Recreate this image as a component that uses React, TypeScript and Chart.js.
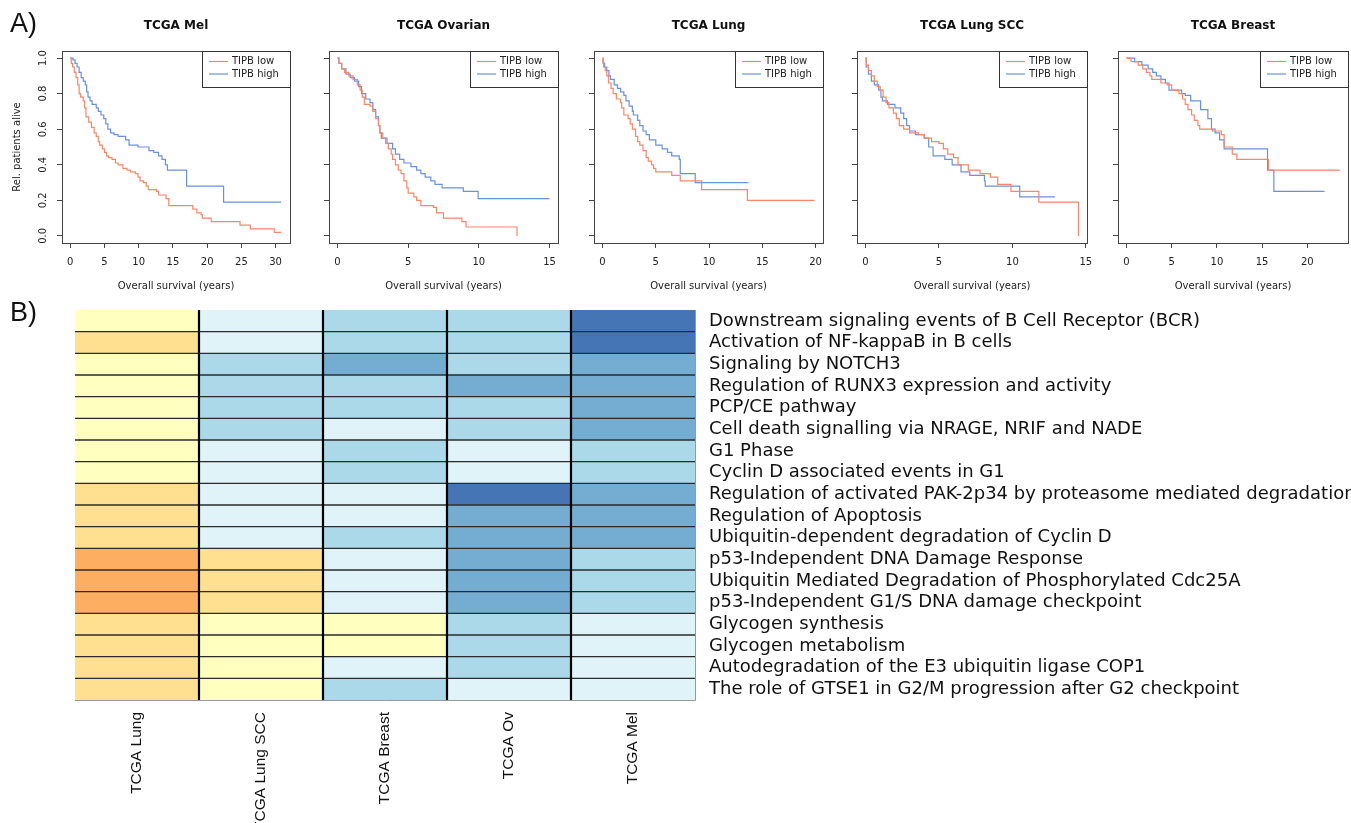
import React, { useEffect, useRef } from "react";
import { Chart, registerables } from "chart.js";
Chart.register(...registerables);

// ---------------- Kaplan-Meier data (time in years, survival fraction) ----------------
const melLowT = [0, 0.15, 0.35, 0.6, 0.85, 1.1, 1.3, 1.5, 1.9, 2.1, 2.3, 2.7, 3.1, 3.5, 3.8, 4.1, 4.3, 4.7, 5.0, 5.3, 5.6, 6.1, 6.6, 7.0, 7.7, 8.3, 8.8, 9.5, 9.9, 10.2, 10.7, 11.1, 11.4, 12.6, 12.9, 14.0, 14.4, 17.9, 18.5, 19.1, 19.3, 20.6, 24.8, 26.3, 29.8, 30.8];
const melLowS = [1.0, 0.97, 0.95, 0.92, 0.89, 0.85, 0.8, 0.78, 0.76, 0.72, 0.67, 0.64, 0.61, 0.58, 0.56, 0.53, 0.51, 0.49, 0.47, 0.45, 0.44, 0.43, 0.41, 0.4, 0.38, 0.37, 0.36, 0.35, 0.33, 0.31, 0.3, 0.28, 0.26, 0.25, 0.23, 0.21, 0.17, 0.15, 0.13, 0.12, 0.1, 0.08, 0.06, 0.04, 0.02, 0.02];
const melHighT = [0, 0.4, 0.7, 1.0, 1.3, 1.6, 1.9, 2.2, 2.4, 2.6, 2.9, 3.2, 3.8, 4.1, 4.5, 4.9, 5.2, 5.5, 5.9, 6.4, 7.0, 8.1, 8.6, 9.9, 11.5, 12.2, 12.9, 13.4, 13.9, 14.2, 17.0, 22.4, 30.8];
const melHighS = [1.0, 0.99, 0.97, 0.95, 0.92, 0.89, 0.87, 0.85, 0.81, 0.78, 0.76, 0.74, 0.72, 0.7, 0.68, 0.66, 0.63, 0.6, 0.58, 0.57, 0.56, 0.54, 0.51, 0.5, 0.48, 0.47, 0.45, 0.43, 0.4, 0.37, 0.28, 0.19, 0.19];

const ovLowT = [0, 0.1, 0.3, 0.5, 0.8, 1.1, 1.4, 1.6, 1.75, 1.9, 2.3, 2.5, 2.7, 2.9, 3.0, 3.2, 3.4, 3.6, 3.8, 3.9, 4.1, 4.3, 4.5, 4.7, 4.9, 5.0, 5.4, 5.6, 5.9, 6.8, 7.0, 7.5, 8.8, 9.1, 12.7, 12.7];
const ovLowS = [1.0, 0.97, 0.94, 0.92, 0.9, 0.88, 0.85, 0.82, 0.78, 0.74, 0.73, 0.7, 0.66, 0.62, 0.58, 0.55, 0.52, 0.49, 0.46, 0.43, 0.4, 0.37, 0.35, 0.31, 0.27, 0.24, 0.22, 0.2, 0.17, 0.16, 0.13, 0.1, 0.08, 0.05, 0.05, 0.0];
const ovHighT = [0, 0.1, 0.3, 0.6, 0.9, 1.2, 1.5, 1.7, 2.0, 2.3, 2.5, 2.7, 2.9, 3.0, 3.1, 3.5, 3.9, 4.1, 4.4, 4.7, 5.2, 5.6, 5.9, 6.2, 6.6, 6.9, 7.4, 8.9, 9.95, 15.0];
const ovHighS = [1.0, 0.97, 0.94, 0.91, 0.89, 0.87, 0.84, 0.8, 0.77, 0.75, 0.71, 0.67, 0.62, 0.58, 0.55, 0.52, 0.49, 0.46, 0.43, 0.41, 0.39, 0.37, 0.35, 0.33, 0.31, 0.29, 0.27, 0.25, 0.21, 0.21];

const lungLowT = [0, 0.02, 0.1, 0.25, 0.4, 0.56, 0.8, 1.0, 1.3, 1.7, 1.8, 2.0, 2.4, 2.6, 2.8, 3.1, 3.3, 3.5, 3.8, 4.1, 4.3, 4.6, 4.8, 5.0, 6.5, 7.3, 9.3, 13.6, 19.9];
const lungLowS = [1.0, 0.98, 0.95, 0.93, 0.9, 0.86, 0.83, 0.8, 0.77, 0.75, 0.72, 0.68, 0.66, 0.63, 0.6, 0.56, 0.53, 0.51, 0.48, 0.44, 0.42, 0.4, 0.38, 0.36, 0.34, 0.31, 0.26, 0.2, 0.2];
const lungHighT = [0, 0.05, 0.2, 0.4, 0.6, 0.75, 1.1, 1.4, 1.7, 2.0, 2.2, 2.5, 2.8, 2.9, 3.3, 3.5, 3.8, 4.1, 4.4, 5.0, 5.6, 6.1, 6.5, 7.2, 7.3, 8.7, 13.7];
const lungHighS = [1.0, 0.97, 0.95, 0.93, 0.9, 0.88, 0.85, 0.83, 0.81, 0.79, 0.76, 0.73, 0.7, 0.68, 0.65, 0.62, 0.59, 0.57, 0.54, 0.51, 0.49, 0.47, 0.45, 0.43, 0.35, 0.3, 0.3];

const sccLowT = [0, 0.05, 0.2, 0.4, 0.6, 0.8, 1.0, 1.2, 1.4, 1.6, 1.9, 2.1, 2.3, 2.6, 3.0, 3.6, 4.0, 4.5, 5.0, 5.3, 5.6, 6.0, 6.3, 7.0, 7.8, 8.5, 9.0, 9.9, 11.8, 14.5, 14.5];
const sccLowS = [1.0, 0.96, 0.93, 0.9, 0.87, 0.84, 0.82, 0.78, 0.75, 0.72, 0.69, 0.66, 0.62, 0.6, 0.58, 0.57, 0.55, 0.53, 0.52, 0.49, 0.46, 0.44, 0.4, 0.37, 0.35, 0.33, 0.29, 0.25, 0.19, 0.19, 0.0];
const sccHighT = [0, 0.05, 0.2, 0.4, 0.6, 0.9, 1.05, 1.15, 1.5, 2.0, 2.4, 2.6, 2.8, 3.0, 3.4, 4.0, 4.3, 4.6, 5.4, 5.9, 6.5, 7.1, 8.1, 8.15, 10.5, 12.9];
const sccHighS = [1.0, 0.95, 0.91, 0.87, 0.85, 0.82, 0.78, 0.76, 0.74, 0.72, 0.69, 0.66, 0.62, 0.59, 0.57, 0.55, 0.5, 0.45, 0.43, 0.4, 0.36, 0.34, 0.31, 0.28, 0.22, 0.22];

const brLowT = [0, 0.5, 1.3, 1.8, 2.2, 2.6, 2.8, 3.8, 4.5, 5.0, 5.8, 6.2, 6.5, 6.8, 7.2, 7.5, 7.9, 8.1, 9.5, 10.5, 10.8, 11.7, 12.2, 15.7, 23.6];
const brLowS = [1.0, 0.98, 0.96, 0.94, 0.92, 0.9, 0.88, 0.86, 0.85, 0.82, 0.8, 0.77, 0.74, 0.71, 0.68, 0.65, 0.62, 0.6, 0.59, 0.57, 0.5, 0.46, 0.43, 0.37, 0.37];
const brHighT = [0, 0.9, 1.7, 2.4, 2.9, 3.3, 3.8, 4.3, 4.7, 6.1, 6.5, 7.1, 8.2, 9.0, 9.4, 9.8, 10.3, 10.8, 15.6, 16.3, 21.9];
const brHighS = [1.0, 0.98, 0.96, 0.94, 0.92, 0.9, 0.88, 0.86, 0.82, 0.8, 0.79, 0.76, 0.71, 0.66, 0.6, 0.58, 0.54, 0.49, 0.37, 0.25, 0.25];

const yTickValues = [0, 0.2, 0.4, 0.6, 0.8, 1.0];
const seriesNames = ["TIPB low", "TIPB high"];

// ---------------- Heatmap data ----------------
const pathways = [
  "Downstream signaling events of B Cell Receptor (BCR)",
  "Activation of NF-kappaB in B cells",
  "Signaling by NOTCH3",
  "Regulation of RUNX3 expression and activity",
  "PCP/CE pathway",
  "Cell death signalling via NRAGE, NRIF and NADE",
  "G1 Phase",
  "Cyclin D associated events in G1",
  "Regulation of activated PAK-2p34 by proteasome mediated degradation",
  "Regulation of Apoptosis",
  "Ubiquitin-dependent degradation of Cyclin D",
  "p53-Independent DNA Damage Response",
  "Ubiquitin Mediated Degradation of Phosphorylated Cdc25A",
  "p53-Independent G1/S DNA damage checkpoint",
  "Glycogen synthesis",
  "Glycogen metabolism",
  "Autodegradation of the E3 ubiquitin ligase COP1",
  "The role of GTSE1 in G2/M progression after G2 checkpoint",
];
const cohortNames = ["TCGA Lung", "TCGA Lung SCC", "TCGA Breast", "TCGA Ov", "TCGA Mel"];
// score levels: -3 .. 4
const lungVals = [-1, -2, -1, -1, -1, -1, -1, -1, -2, -2, -2, -3, -3, -3, -2, -2, -2, -2];
const lungSccVals = [1, 1, 2, 2, 2, 2, 1, 1, 1, 1, 1, -2, -2, -2, -1, -1, -1, -1];
const breastVals = [2, 2, 3, 2, 2, 1, 2, 2, 1, 1, 2, 1, 1, 1, -1, -1, 1, 2];
const ovVals = [2, 2, 2, 3, 2, 2, 1, 1, 4, 3, 3, 3, 3, 3, 2, 2, 2, 1];
const melVals = [4, 4, 3, 3, 3, 3, 2, 2, 3, 3, 3, 2, 2, 2, 1, 1, 1, 1];
const levelColors: Record<string, string> = {
  "-3": "#FDAE61",
  "-2": "#FEE090",
  "-1": "#FFFFBF",
  "1": "#E0F3F8",
  "2": "#ABD9E9",
  "3": "#74ADD1",
  "4": "#4575B4",
};

const LOW_COLOR = "#F8866A";
const HIGH_COLOR = "#6A91DC";
const FONT = "DejaVu Sans";

type Panel = {
  title: string;
  lowT: number[]; lowS: number[]; highT: number[]; highS: number[];
  xMin: number; xMax: number; xTicks: number[];
  plotLeft: number; plotRight: number; showY: boolean;
};

const panels: Panel[] = [
  { title: "TCGA Mel", lowT: melLowT, lowS: melLowS, highT: melHighT, highS: melHighS, xMin: -1.2, xMax: 32.1, xTicks: [0, 5, 10, 15, 20, 25, 30], plotLeft: 62, plotRight: 290, showY: true },
  { title: "TCGA Ovarian", lowT: ovLowT, lowS: ovLowS, highT: ovHighT, highS: ovHighS, xMin: -0.6, xMax: 15.6, xTicks: [0, 5, 10, 15], plotLeft: 329, plotRight: 558, showY: false },
  { title: "TCGA Lung", lowT: lungLowT, lowS: lungLowS, highT: lungHighT, highS: lungHighS, xMin: -0.8, xMax: 20.7, xTicks: [0, 5, 10, 15, 20], plotLeft: 594, plotRight: 823, showY: false },
  { title: "TCGA Lung SCC", lowT: sccLowT, lowS: sccLowS, highT: sccHighT, highS: sccHighS, xMin: -0.58, xMax: 15.08, xTicks: [0, 5, 10, 15], plotLeft: 857, plotRight: 1087, showY: false },
  { title: "TCGA Breast", lowT: brLowT, lowS: brLowS, highT: brHighT, highS: brHighS, xMin: -0.94, xMax: 24.5, xTicks: [0, 5, 10, 15, 20], plotLeft: 1118, plotRight: 1348, showY: false },
];

function KMPanel({ p }: { p: Panel }) {
  const ref = useRef<HTMLCanvasElement>(null);
  const yW = p.showY ? p.plotLeft : 30;
  const rPad = 10;
  const width = yW + (p.plotRight - p.plotLeft) + rPad;
  const left = p.plotLeft - yW;
  useEffect(() => {
    const decor = {
      id: "kmDecor",
      afterDraw(chart: any) {
        const { ctx, chartArea } = chart;
        const ys = chart.scales.y;
        const cx = (chartArea.left + chartArea.right) / 2;
        ctx.save();
        ctx.strokeStyle = "#444";
        ctx.lineWidth = 1;
        ctx.strokeRect(Math.round(chartArea.left) + 0.5, Math.round(chartArea.top) + 0.5, Math.round(chartArea.right - chartArea.left), Math.round(chartArea.bottom - chartArea.top));
        ctx.fillStyle = "#111";
        ctx.textAlign = "center";
        ctx.textBaseline = "middle";
        ctx.font = `bold 12px "${FONT}"`;
        ctx.fillText(p.title, cx, 26);
        ctx.font = `10px "${FONT}"`;
        ctx.fillStyle = "#222";
        ctx.fillText("Overall survival (years)", cx, 286);
        if (p.showY) {
          ctx.font = `10px "${FONT}"`;
          for (const v of yTickValues) {
            const y = ys.getPixelForValue(v);
            ctx.save();
            ctx.translate(43, y);
            ctx.rotate(-Math.PI / 2);
            ctx.fillText(v.toFixed(1), 0, 0);
            ctx.restore();
          }
          ctx.save();
          ctx.translate(17, (chartArea.top + chartArea.bottom) / 2);
          ctx.rotate(-Math.PI / 2);
          ctx.fillText("Rel. patients alive", 0, 0);
          ctx.restore();
        }
        const bw = 88, bh = 36;
        const bx = Math.round(chartArea.right) - bw;
        const by = Math.round(chartArea.top);
        ctx.fillStyle = "#fff";
        ctx.fillRect(bx, by, bw, bh);
        ctx.strokeStyle = "#333";
        ctx.lineWidth = 1;
        ctx.strokeRect(bx + 0.5, by + 0.5, bw, bh);
        const cols = [LOW_COLOR, HIGH_COLOR];
        const rowsY = [by + 10.5, by + 23];
        ctx.font = `10px "${FONT}"`;
        ctx.textAlign = "left";
        for (let i = 0; i < 2; i++) {
          ctx.strokeStyle = cols[i];
          ctx.lineWidth = 1.2;
          ctx.beginPath();
          ctx.moveTo(bx + 7, rowsY[i]);
          ctx.lineTo(bx + 26, rowsY[i]);
          ctx.stroke();
          ctx.fillStyle = "#222";
          ctx.fillText(seriesNames[i], bx + 30, rowsY[i]);
        }
        ctx.restore();
      },
    };
    const mk = (t: number[], s: number[]) => t.map((x, i) => ({ x, y: s[i] }));
    const chart = new Chart(ref.current as HTMLCanvasElement, {
      type: "line",
      data: {
        datasets: [
          { label: seriesNames[0], data: mk(p.lowT, p.lowS), borderColor: LOW_COLOR, borderWidth: 1.2, pointRadius: 0, stepped: true, fill: false },
          { label: seriesNames[1], data: mk(p.highT, p.highS), borderColor: HIGH_COLOR, borderWidth: 1.2, pointRadius: 0, stepped: true, fill: false },
        ],
      },
      options: {
        animation: false,
        responsive: false,
        events: [],
        layout: { padding: { top: 51, right: rPad, left: 0, bottom: 0 } },
        plugins: { legend: { display: false }, tooltip: { enabled: false }, title: { display: false } },
        scales: {
          x: {
            type: "linear",
            min: p.xMin,
            max: p.xMax,
            afterBuildTicks: (s: any) => { s.ticks = p.xTicks.map((v) => ({ value: v })); },
            afterFit: (s: any) => { s.height = 57; s.paddingLeft = 0; s.paddingRight = 0; },
            grid: { display: true, drawOnChartArea: false, drawTicks: true, tickLength: 5, color: "#444", lineWidth: 1 },
            border: { display: false },
            ticks: { padding: 8, font: { family: FONT, size: 10 }, color: "#222", maxRotation: 0, minRotation: 0, autoSkip: false },
          },
          y: {
            type: "linear",
            min: -0.04,
            max: 1.04,
            afterBuildTicks: (s: any) => { s.ticks = yTickValues.map((v) => ({ value: v })); },
            afterFit: (s: any) => { s.width = yW; s.paddingTop = 0; s.paddingBottom = 0; },
            grid: { display: true, drawOnChartArea: false, drawTicks: true, tickLength: 5, color: "#444", lineWidth: 1 },
            border: { display: false },
            ticks: { display: false },
          },
        },
      } as any,
      plugins: [decor],
    });
    return () => chart.destroy();
  }, []);
  return (
    <canvas ref={ref} width={width} height={300} style={{ position: "absolute", left, top: 0, width, height: 300 }} />
  );
}

function Heatmap() {
  const ref = useRef<HTMLCanvasElement>(null);
  useEffect(() => {
    const columns = [lungVals, lungSccVals, breastVals, ovVals, melVals];
    const gridPlugin = {
      id: "heatGrid",
      afterDatasetsDraw(chart: any) {
        const { ctx, chartArea } = chart;
        const xs = chart.scales.x;
        const ys = chart.scales.y;
        ctx.save();
        ctx.strokeStyle = "#2b2b2b";
        ctx.lineWidth = 1.4;
        for (let i = 1; i < pathways.length; i++) {
          const y = (ys.getPixelForValue(i - 1) + ys.getPixelForValue(i)) / 2;
          ctx.beginPath();
          ctx.moveTo(chartArea.left, y);
          ctx.lineTo(chartArea.right, y);
          ctx.stroke();
        }
        ctx.strokeStyle = "#000";
        ctx.lineWidth = 2.2;
        for (let c = 1; c < cohortNames.length; c++) {
          const x = xs.getPixelForValue(c);
          ctx.beginPath();
          ctx.moveTo(x, chartArea.top);
          ctx.lineTo(x, chartArea.bottom);
          ctx.stroke();
        }
        ctx.strokeStyle = "#999";
        ctx.lineWidth = 1;
        ctx.beginPath();
        ctx.moveTo(chartArea.left, chartArea.bottom + 0.5);
        ctx.lineTo(chartArea.right + 0.5, chartArea.bottom + 0.5);
        ctx.lineTo(chartArea.right + 0.5, chartArea.top);
        ctx.stroke();
        ctx.restore();
      },
    };
    const chart = new Chart(ref.current as HTMLCanvasElement, {
      type: "bar",
      data: {
        labels: pathways,
        datasets: columns.map((vals, ci) => ({
          label: cohortNames[ci],
          data: vals.map(() => 1),
          backgroundColor: vals.map((v) => levelColors[String(v)]),
          borderWidth: 0,
          barPercentage: 1,
          categoryPercentage: 1,
          stack: "cells",
        })),
      },
      options: {
        indexAxis: "y",
        animation: false,
        responsive: false,
        events: [],
        layout: { padding: { left: 75, top: 10, right: 0, bottom: 0 } },
        plugins: { legend: { display: false }, tooltip: { enabled: false } },
        scales: {
          x: {
            type: "linear",
            stacked: true,
            min: 0,
            max: 5,
            position: "bottom",
            afterBuildTicks: (s: any) => { s.ticks = cohortNames.map((_, i) => ({ value: i + 0.5 })); },
            afterFit: (s: any) => { s.height = 123; s.paddingLeft = 0; s.paddingRight = 0; },
            grid: { display: false, drawTicks: false, tickLength: 0 },
            border: { display: false },
            ticks: {
              callback: (_v: any, i: number) => cohortNames[i],
              minRotation: 90,
              maxRotation: 90,
              autoSkip: false,
              padding: 12,
              font: { family: "Liberation Sans", size: 15.5 },
              color: "#111",
            },
          },
          y: {
            type: "category",
            position: "right",
            stacked: true,
            afterFit: (s: any) => { s.width = 656; s.paddingTop = 0; s.paddingBottom = 0; },
            grid: { display: false, drawTicks: false, tickLength: 0 },
            border: { display: false },
            ticks: { padding: 14, autoSkip: false, font: { family: FONT, size: 18 }, color: "#111" },
          },
        },
      } as any,
      plugins: [gridPlugin],
    });
    return () => chart.destroy();
  }, []);
  return <canvas ref={ref} width={1351} height={523} style={{ position: "absolute", left: 0, top: 300, width: 1351, height: 523 }} />;
}

export default function App() {
  return (
    <div style={{ position: "fixed", left: 0, top: 0, width: 1351, height: 823, background: "#fff", overflow: "hidden" }}>
      {panels.map((p) => (
        <KMPanel key={p.title} p={p} />
      ))}
      <Heatmap />
      <div style={{ position: "absolute", left: 10, top: 8, fontFamily: "Liberation Sans", fontSize: 27, lineHeight: "30px", color: "#111" }}>A)</div>
      <div style={{ position: "absolute", left: 10, top: 297, fontFamily: "Liberation Sans", fontSize: 27, lineHeight: "30px", color: "#111" }}>B)</div>
    </div>
  );
}
